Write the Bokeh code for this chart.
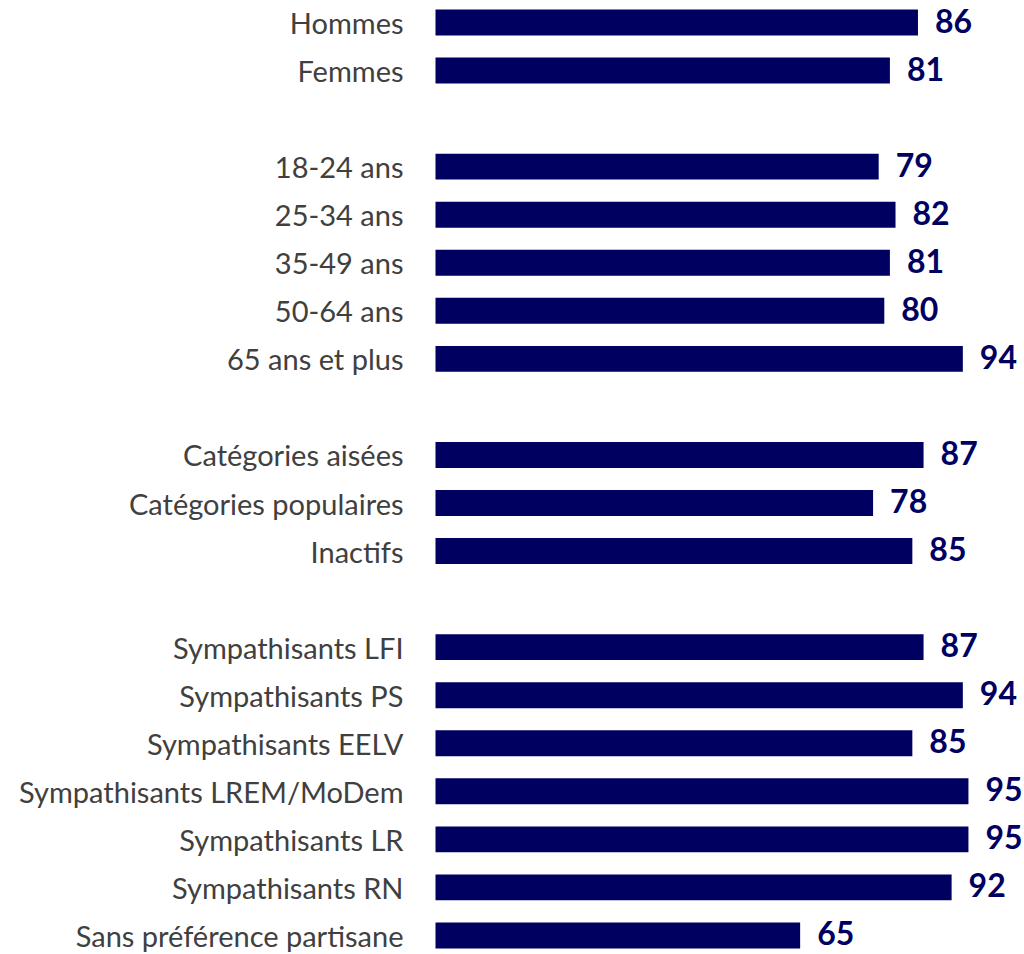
from bokeh.plotting import figure
from bokeh.models import Range1d, ColumnDataSource
from bokeh.core.properties import value
from bokeh.embed import file_html
from bokeh.resources import INLINE

group_sexe = ["Hommes", "Femmes"]
values_sexe = [86, 81]
group_age = ["18-24 ans", "25-34 ans", "35-49 ans", "50-64 ans", "65 ans et plus"]
values_age = [79, 82, 81, 80, 94]
group_csp = ["Catégories aisées", "Catégories populaires", "Inactifs"]
values_csp = [87, 78, 85]
group_parti = ["Sympathisants LFI", "Sympathisants PS", "Sympathisants EELV",
               "Sympathisants LREM/MoDem", "Sympathisants LR", "Sympathisants RN",
               "Sans préférence partisane"]
values_parti = [87, 94, 85, 95, 95, 92, 65]

groups = [(group_sexe, values_sexe), (group_age, values_age),
          (group_csp, values_csp), (group_parti, values_parti)]

labels, vals, ys = [], [], []
slot = 0
for cats, vs in groups:
    for c, v in zip(cats, vs):
        labels.append(c)
        vals.append(v)
        ys.append(slot)
        slot += 1
    slot += 1  # blank slot between groups

src = ColumnDataSource(dict(label=labels, val=vals, y=ys,
                            txt=[str(v) for v in vals]))

W, H = 1024, 954
px_per_unit = 5.61
zero_px = 435
slot_px = 48.05
top_px = 22

p = figure(width=W, height=H, output_backend="svg", toolbar_location=None,
           x_range=Range1d(-zero_px / px_per_unit, (W - zero_px) / px_per_unit),
           y_range=Range1d(-top_px / slot_px + H / slot_px, -top_px / slot_px),
           min_border=0, min_border_left=0, min_border_right=0,
           min_border_top=0, min_border_bottom=0)
p.axis.visible = False
p.grid.visible = False
p.outline_line_color = None
p.background_fill_color = "white"
p.border_fill_color = "white"

NAVY = "#000060"
p.hbar(y="y", left=0, right="val", height=0.54, source=src,
       fill_color=NAVY, line_color=None)

p.text(x=0, y="y", text="label", source=src, x_offset=-32,
       text_align="right", text_baseline="middle",
       text_font=value("Lato"), text_font_size="29px", text_color="#404040")

p.text(x="val", y="y", text="txt", source=src, x_offset=17, y_offset=-2,
       text_align="left", text_baseline="middle",
       text_font=value("Lato"), text_font_size="32px", text_font_style="bold",
       text_color=NAVY)

open("out.html", "w").write(file_html(p, INLINE))
